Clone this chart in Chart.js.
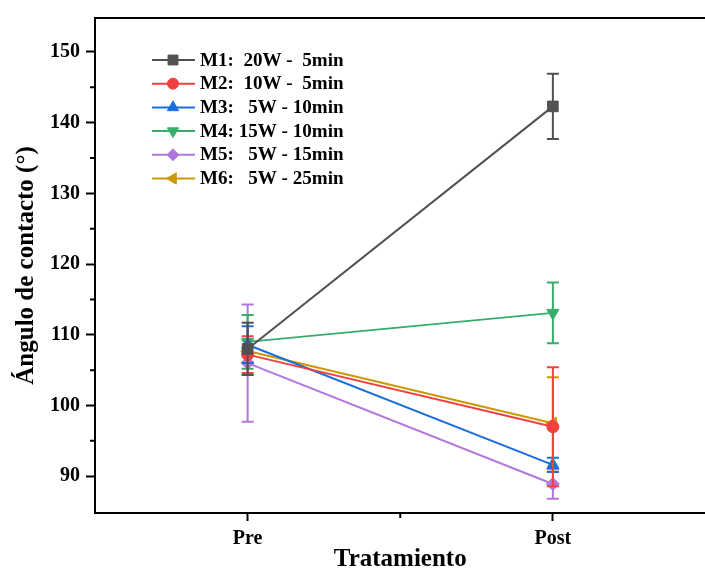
<!DOCTYPE html>
<html>
<head>
<meta charset="utf-8">
<script src="https://cdn.jsdelivr.net/npm/chart.js@4.4.1/dist/chart.umd.min.js"></script>
<style>
  html, body { margin: 0; padding: 0; background: #fff; overflow: hidden; }
  #wrap { position: relative; width: 714px; height: 572px; }
</style>
</head>
<body>
<div id="wrap"><canvas id="chart"></canvas></div>
<script>
// categories on the x axis and their positions on the linear scale
const categories = ['Pre', 'Post'];
const catPos = [1, 2];

const seriesNames = [
  'M1:  20W -  5min',
  'M2:  10W -  5min',
  'M3:   5W - 10min',
  'M4: 15W - 10min',
  'M5:   5W - 15min',
  'M6:   5W - 25min'
];

// mean contact angle (Pre, Post)
const m1 = [108.0, 142.3];
const m2 = [107.2, 97.0];
const m3 = [108.6, 91.6];
const m4 = [109.0, 113.1];
const m5 = [106.0, 88.9];
const m6 = [107.7, 97.5];

// standard deviations (Pre, Post)
const m1Err = [3.7, 4.6];
const m2Err = [2.6, 8.4];
const m3Err = [2.6, 1.0];
const m4Err = [3.8, 4.3];
const m5Err = [8.3, 2.1];
const m6Err = [1.5, 6.5];

const yTicks = [90, 100, 110, 120, 130, 140, 150];
const yMinor = [95, 105, 115, 125, 135, 145];

const colors = ['#515151', '#F14040', '#1A6FDF', '#37AD6B', '#B177DE', '#CC9900'];
const markers = [
  { style: 'rect', rot: 0, r: 7.5 },
  { style: 'circle', rot: 0, r: 6 },
  { style: 'triangle', rot: 0, r: 7 },
  { style: 'triangle', rot: 180, r: 7 },
  { style: 'rectRot', rot: 0, r: 6.5 },
  { style: 'triangle', rot: 270, r: 7 }
];

const means = [m1, m2, m3, m4, m5, m6];
const errs = [m1Err, m2Err, m3Err, m4Err, m5Err, m6Err];

const FONT = '"Liberation Serif", "Times New Roman", serif';

const datasets = means.map((vals, i) => ({
  label: seriesNames[i],
  data: vals.map((v, j) => ({ x: catPos[j], y: v })),
  errors: errs[i],
  borderColor: colors[i],
  backgroundColor: colors[i],
  borderWidth: 2,
  pointStyle: markers[i].style,
  rotation: markers[i].rot,
  pointRadius: markers[i].r,
  pointHoverRadius: markers[i].r,
  pointBorderWidth: 1,
  tension: 0
}));

function drawMarker(ctx, m, color, x, y, r) {
  ctx.save();
  ctx.fillStyle = color;
  ctx.strokeStyle = color;
  ctx.lineWidth = 1;
  if (Chart.helpers && Chart.helpers.drawPoint) {
    Chart.helpers.drawPoint(ctx, { pointStyle: m.style, rotation: m.rot, radius: r, borderWidth: 1 }, x, y);
  } else {
    ctx.beginPath();
    ctx.arc(x, y, r, 0, Math.PI * 2);
    ctx.fill();
  }
  ctx.restore();
}

// error bars, drawn right after each dataset
const errorBars = {
  id: 'errorBars',
  afterDatasetDraw(chart, args) {
    const ds = chart.data.datasets[args.index];
    const xs = chart.scales.x, ys = chart.scales.y;
    const ctx = chart.ctx;
    ctx.save();
    ctx.strokeStyle = ds.borderColor;
    ctx.lineWidth = 2;
    ds.data.forEach((p, j) => {
      const e = ds.errors[j];
      const px = xs.getPixelForValue(p.x);
      const top = ys.getPixelForValue(p.y + e);
      const bot = ys.getPixelForValue(p.y - e);
      ctx.beginPath();
      ctx.moveTo(px, top); ctx.lineTo(px, bot);
      ctx.moveTo(px - 6, top); ctx.lineTo(px + 6, top);
      ctx.moveTo(px - 6, bot); ctx.lineTo(px + 6, bot);
      ctx.stroke();
    });
    ctx.restore();
  }
};

// top frame line, minor ticks and the legend
const frame = {
  id: 'frame',
  afterDraw(chart) {
    const { ctx, chartArea: a } = chart;
    const xs = chart.scales.x, ys = chart.scales.y;
    ctx.save();
    ctx.strokeStyle = '#000';
    ctx.lineWidth = 2;
    ctx.beginPath();
    ctx.moveTo(a.left - 1, a.top); ctx.lineTo(a.right, a.top);
    yMinor.forEach(v => {
      const py = ys.getPixelForValue(v);
      ctx.moveTo(a.left - 5, py); ctx.lineTo(a.left, py);
    });
    const mx = xs.getPixelForValue((catPos[0] + catPos[1]) / 2);
    ctx.moveTo(mx, a.bottom); ctx.lineTo(mx, a.bottom + 5);
    ctx.stroke();

    // legend
    const lx0 = 152, lx1 = 195, mxp = 173, tx = 200, ly0 = 60, step = 23.7;
    ctx.font = 'bold 18px ' + FONT;
    ctx.textBaseline = 'middle';
    ctx.textAlign = 'left';
    seriesNames.forEach((name, i) => {
      const y = ly0 + i * step;
      ctx.strokeStyle = colors[i];
      ctx.lineWidth = 2;
      ctx.beginPath();
      ctx.moveTo(lx0, y); ctx.lineTo(lx1, y);
      ctx.stroke();
      drawMarker(ctx, markers[i], colors[i], mxp, y, markers[i].r - 0.5);
      ctx.fillStyle = '#000';
      ctx.save();
      ctx.translate(tx, y + 1);
      ctx.scale(1.06, 1);
      ctx.fillText(name, 0, 0);
      ctx.restore();
    });
    ctx.restore();
  }
};

new Chart(document.getElementById('chart'), {
  type: 'line',
  data: { datasets },
  plugins: [errorBars, frame],
  options: {
    responsive: true,
    maintainAspectRatio: false,
    animation: false,
    layout: { padding: { top: 14, left: 0, right: 0, bottom: 0 } },
    plugins: {
      legend: { display: false },
      tooltip: { enabled: false }
    },
    scales: {
      x: {
        type: 'linear',
        min: 0.5,
        max: 2.5,
        afterBuildTicks: s => { s.ticks = catPos.map(v => ({ value: v })); },
        afterFit: s => { s.height = 59; },
        ticks: {
          callback: v => categories[catPos.indexOf(v)],
          color: '#000',
          padding: 6,
          font: { family: FONT, size: 20, weight: 'bold' },
          maxRotation: 0
        },
        grid: { drawOnChartArea: false, drawTicks: true, tickLength: 8, tickWidth: 2, tickColor: '#000' },
        border: { display: true, color: '#000', width: 2 },
        title: {
          display: true,
          text: 'Tratamiento',
          color: '#000',
          padding: 0,
          font: { family: FONT, size: 25, weight: 'bold', lineHeight: 1 }
        }
      },
      y: {
        min: 84.8,
        max: 154.8,
        afterBuildTicks: s => { s.ticks = yTicks.map(v => ({ value: v })); },
        afterFit: s => { s.width = 95; },
        ticks: {
          color: '#000',
          padding: 6,
          font: { family: FONT, size: 20, weight: 'bold' }
        },
        grid: { drawOnChartArea: false, drawTicks: true, tickLength: 9, tickWidth: 2, tickColor: '#000' },
        border: { display: true, color: '#000', width: 2 },
        title: {
          display: true,
          text: 'Ángulo de contacto (°)',
          color: '#000',
          padding: { top: 14, bottom: 0 },
          font: { family: FONT, size: 25, weight: 'bold', lineHeight: 1 }
        }
      }
    }
  }
});
</script>
</body>
</html>
